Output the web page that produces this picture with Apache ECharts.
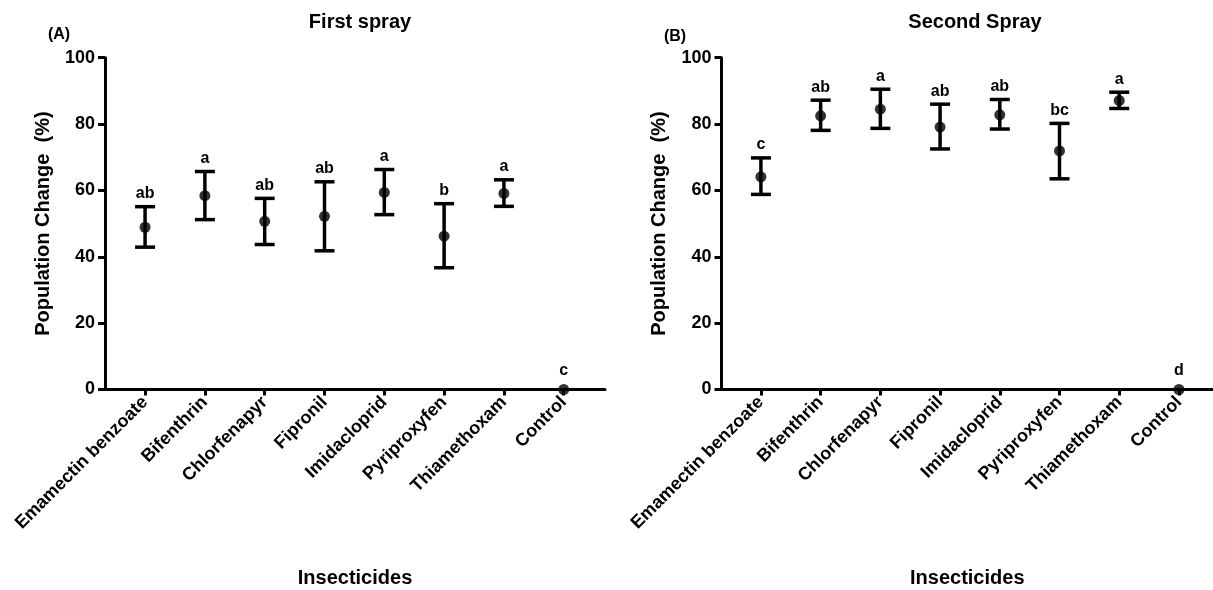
<!DOCTYPE html>
<html>
<head>
<meta charset="utf-8">
<script src="https://cdn.jsdelivr.net/npm/echarts@6/dist/echarts.min.js"></script>
<style>
  html, body { margin: 0; padding: 0; background: #fff; }
  #chart { width: 1213px; height: 590px; }
</style>
</head>
<body>
<div id="chart"></div>
<script>
const categories = ['Emamectin benzoate', 'Bifenthrin', 'Chlorfenapyr', 'Fipronil', 'Imidacloprid', 'Pyriproxyfen', 'Thiamethoxam', 'Control']
const yTicks = [0, 20, 40, 60, 80, 100]

// first spray
const firstMean = [48.9, 58.4, 50.7, 52.2, 59.4, 46.2, 59.1, 0]
const firstUpper = [55.1, 65.7, 57.6, 62.6, 66.3, 56.0, 63.2, 0]
const firstLower = [42.9, 51.2, 43.7, 41.8, 52.7, 36.7, 55.2, 0]
const firstLetters = ['ab', 'a', 'ab', 'ab', 'a', 'b', 'a', 'c']

// second spray
const secondMean = [64.1, 82.5, 84.5, 79.1, 82.8, 71.9, 87.1, 0]
const secondUpper = [69.8, 87.2, 90.5, 86.0, 87.4, 80.2, 89.6, 0]
const secondLower = [58.8, 78.1, 78.7, 72.5, 78.5, 63.5, 84.7, 0]
const secondLetters = ['c', 'ab', 'a', 'ab', 'ab', 'bc', 'a', 'd']

const font = "'Liberation Sans', Arial, sans-serif"
const catIdx = categories.map((c, i) => i)

var chartDom = document.getElementById('chart')
var myChart = echarts.init(chartDom)

function errorBars(letters) {
  return function (params, api) {
    const i = api.value(0)
    const lo = api.coord([i, api.value(1)])
    const hi = api.coord([i, api.value(2)])
    const mid = api.coord([i, api.value(3)])
    const half = 10
    const style = { stroke: '#000', lineWidth: 3.5 }
    const children = []
    if (api.value(1) !== api.value(2)) {
      children.push(
        { type: 'line', shape: { x1: hi[0], y1: hi[1], x2: lo[0], y2: lo[1] }, style },
        { type: 'line', shape: { x1: hi[0] - half, y1: hi[1], x2: hi[0] + half, y2: hi[1] }, style },
        { type: 'line', shape: { x1: lo[0] - half, y1: lo[1], x2: lo[0] + half, y2: lo[1] }, style }
      )
    }
    const top = Math.min(hi[1], mid[1] - 6) - 5
    children.push({
      type: 'text',
      style: {
        x: hi[0], y: top, text: letters[params.dataIndex],
        fill: '#000', font: 'bold 16px ' + font,
        textAlign: 'center', textVerticalAlign: 'bottom'
      }
    })
    return { type: 'group', children }
  }
}

function xAxisFor(gridIndex, min, max) {
  return {
    type: 'value', gridIndex, min, max,
    name: 'Insecticides', nameLocation: 'middle', nameGap: 179,
    nameTextStyle: { fontFamily: font, fontWeight: 'bold', fontSize: 20, color: '#000' },
    axisLine: { onZero: false, lineStyle: { color: '#000', width: 3 } },
    axisTick: { customValues: catIdx, length: 6, lineStyle: { color: '#000', width: 3 } },
    axisLabel: {
      customValues: catIdx, rotate: 45, margin: 10,
      fontFamily: font, fontWeight: 'bold', fontSize: 18, color: '#000',
      formatter: v => categories[Math.round(v)]
    },
    splitLine: { show: false }
  }
}

function yAxisFor(gridIndex) {
  return {
    type: 'value', gridIndex, min: 0, max: 100, interval: 20,
    name: 'Population Change  (%)', nameLocation: 'middle', nameGap: 52,
    nameTextStyle: { fontFamily: font, fontWeight: 'bold', fontSize: 20, color: '#000' },
    axisLine: { show: true, onZero: false, lineStyle: { color: '#000', width: 3 } },
    axisTick: { show: true, length: 7, lineStyle: { color: '#000', width: 3 } },
    axisLabel: {
      margin: 10, fontFamily: font, fontWeight: 'bold', fontSize: 18, color: '#000',
      formatter: v => yTicks.includes(v) ? String(v) : ''
    },
    splitLine: { show: false }
  }
}

function seriesFor(idx, mean, lower, upper, letters) {
  return [
    {
      type: 'custom', xAxisIndex: idx, yAxisIndex: idx, clip: false,
      renderItem: errorBars(letters),
      data: catIdx.map(i => [i, lower[i], upper[i], mean[i]]),
      z: 2
    },
    {
      type: 'scatter', xAxisIndex: idx, yAxisIndex: idx, clip: false,
      symbol: 'circle', symbolSize: 11,
      itemStyle: { color: '#000' },
      data: catIdx.map(i => [i, mean[i]]),
      z: 3
    }
  ]
}

const titleStyle = { fontFamily: font, fontWeight: 'bold', fontSize: 20, color: '#000' }

const option = {
  animation: false,
  backgroundColor: '#fff',
  title: [
    { text: 'First spray', left: 355, top: 7, textAlign: 'center', textStyle: titleStyle },
    { text: 'Second Spray', left: 970, top: 7, textAlign: 'center', textStyle: titleStyle },
    { text: '(A)', left: 54, top: 22, textAlign: 'center', textStyle: { ...titleStyle, fontSize: 16 } },
    { text: '(B)', left: 670, top: 24, textAlign: 'center', textStyle: { ...titleStyle, fontSize: 16 } }
  ],
  grid: [
    { left: 105, top: 57.7, width: 500, height: 331.8, outerBoundsMode: 'none', containLabel: false },
    { left: 721.5, top: 57.7, width: 491.5, height: 331.8, outerBoundsMode: 'none', containLabel: false }
  ],
  xAxis: [xAxisFor(0, -0.67, 7.69), xAxisFor(1, -0.66, 7.57)],
  yAxis: [yAxisFor(0), yAxisFor(1)],
  series: [
    ...seriesFor(0, firstMean, firstLower, firstUpper, firstLetters),
    ...seriesFor(1, secondMean, secondLower, secondUpper, secondLetters)
  ]
}
option && myChart.setOption(option)
</script>
</body>
</html>
